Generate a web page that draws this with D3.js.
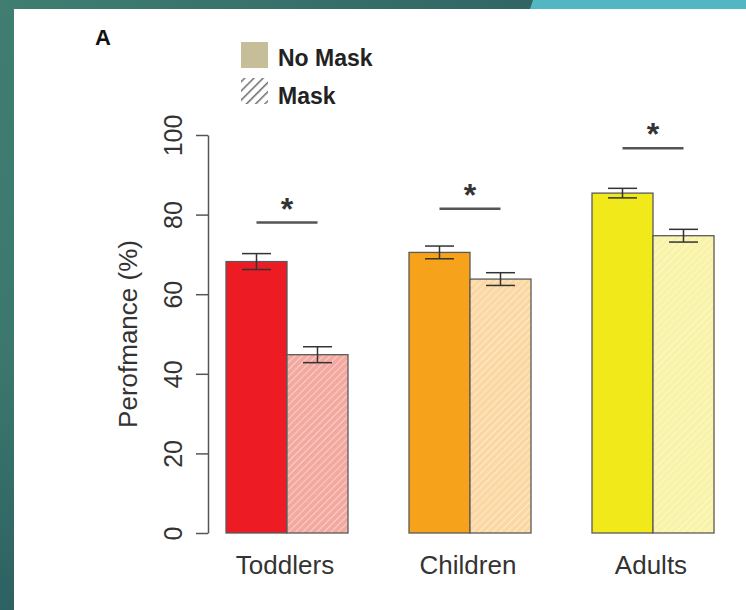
<!DOCTYPE html>
<html>
<head>
<meta charset="utf-8">
<script src="https://cdn.jsdelivr.net/npm/d3@7"></script>
<style>
  html, body { margin: 0; padding: 0; background: #ffffff; }
  svg { display: block; }
</style>
</head>
<body>
<script>
// Performance by age group, with and without a face mask
const categories = ["Toddlers", "Children", "Adults"];
const seriesNames = ["No Mask", "Mask"];
const noMask = [68.2, 70.5, 85.4];
const mask = [44.8, 63.8, 74.7];
const noMaskErr = [2.0, 1.6, 1.2];
const maskErr = [2.0, 1.6, 1.6];
const sigLevel = [78, 81.5, 96.7];
const sigMark = ["*", "*", "*"];
const yTicks = [0, 20, 40, 60, 80, 100];

const solidColors = ["#ed1c24", "#f7a21b", "#f2e91a"];
const lightColors = ["#f3a99f", "#fbd8a3", "#f8f3a6"];

const W = 746, H = 610;
const svg = d3.select("body").append("svg").attr("width", W).attr("height", H);
const defs = svg.append("defs");

// slide frame: teal band on the left and top, cyan strip at top right
const g1 = defs.append("linearGradient").attr("id", "bandTop").attr("x1", 0).attr("x2", 1).attr("y1", 0).attr("y2", 0);
g1.append("stop").attr("offset", 0).attr("stop-color", "#3f7e71");
g1.append("stop").attr("offset", 1).attr("stop-color", "#2a5b5f");
const g2 = defs.append("linearGradient").attr("id", "bandLeft").attr("x1", 0).attr("x2", 0).attr("y1", 0).attr("y2", 1);
g2.append("stop").attr("offset", 0).attr("stop-color", "#3f7e71");
g2.append("stop").attr("offset", 0.6).attr("stop-color", "#3b776d");
g2.append("stop").attr("offset", 1).attr("stop-color", "#2e6162");

svg.append("rect").attr("x", 0).attr("y", 0).attr("width", 14).attr("height", H).attr("fill", "url(#bandLeft)");
svg.append("rect").attr("x", 0).attr("y", 0).attr("width", W).attr("height", 9).attr("fill", "url(#bandTop)");
svg.append("path").attr("d", "M533,0 L746,0 L746,9 L530,9 Z").attr("fill", "#52b7c3");

// hatch patterns for the masked bars
lightColors.forEach((c, i) => {
  const p = defs.append("pattern").attr("id", "hatch" + i)
    .attr("patternUnits", "userSpaceOnUse").attr("width", 5).attr("height", 5)
    .attr("patternTransform", "rotate(45)");
  p.append("rect").attr("width", 5).attr("height", 5).attr("fill", c);
  p.append("line").attr("x1", 0).attr("y1", 0).attr("x2", 0).attr("y2", 5)
    .attr("stroke", "#ffffff").attr("stroke-opacity", 0.45).attr("stroke-width", 2);
});
const lp = defs.append("pattern").attr("id", "hatchLegend")
  .attr("patternUnits", "userSpaceOnUse").attr("width", 6.5).attr("height", 6.5)
  .attr("patternTransform", "rotate(45)");
lp.append("rect").attr("width", 6.5).attr("height", 6.5).attr("fill", "#ffffff");
lp.append("line").attr("x1", 0).attr("y1", 0).attr("x2", 0).attr("y2", 6.5)
  .attr("stroke", "#6e6e6e").attr("stroke-width", 3);

// scales
const y = d3.scaleLinear().domain([0, 100]).range([533, 135]);
const x0 = d3.scaleBand().domain(categories).range([226, 714]).paddingInner(1 / 3).paddingOuter(0);
const x1 = d3.scaleBand().domain(seriesNames).range([0, x0.bandwidth()]);

const rows = categories.map((c, i) => ({
  cat: c, i,
  vals: [
    { s: "No Mask", v: noMask[i], e: noMaskErr[i], fill: solidColors[i] },
    { s: "Mask", v: mask[i], e: maskErr[i], fill: "url(#hatch" + i + ")" }
  ]
}));

// y axis
const yAxis = svg.append("g").attr("transform", "translate(208,0)")
  .call(d3.axisLeft(y).tickValues(yTicks).tickSize(12).tickSizeOuter(0).tickPadding(0).tickFormat(d3.format("d")));
yAxis.select(".domain").attr("stroke", "#555").attr("stroke-width", 1.5);
yAxis.selectAll(".tick line").attr("stroke", "#555").attr("stroke-width", 1.5);
yAxis.selectAll(".tick text")
  .attr("transform", "translate(-26,0) rotate(-90)")
  .attr("x", 0).attr("y", 0).attr("dy", 0)
  .attr("text-anchor", "middle")
  .attr("font-family", "Liberation Sans, Arial, sans-serif")
  .attr("font-size", 25).attr("fill", "#333");

svg.append("text")
  .attr("transform", `translate(137,${(y(0) + y(100)) / 2}) rotate(-90)`)
  .attr("text-anchor", "middle")
  .attr("font-family", "Liberation Sans, Arial, sans-serif")
  .attr("font-size", 26).attr("fill", "#333")
  .text("Perofmance (%)");

// bars
const groups = svg.append("g").selectAll("g").data(rows).join("g")
  .attr("transform", d => `translate(${x0(d.cat)},0)`);

groups.selectAll("rect").data(d => d.vals).join("rect")
  .attr("x", d => x1(d.s)).attr("width", x1.bandwidth())
  .attr("y", d => y(d.v)).attr("height", d => y(0) - y(d.v))
  .attr("fill", d => d.fill)
  .attr("stroke", "#5a5a5a").attr("stroke-width", 1.3);

// error bars
const capW = 29;
const eb = groups.selectAll("g.err").data(d => d.vals).join("g").attr("class", "err")
  .attr("stroke", "#333").attr("stroke-width", 1.5);
eb.append("line")
  .attr("x1", d => x1(d.s) + x1.bandwidth() / 2).attr("x2", d => x1(d.s) + x1.bandwidth() / 2)
  .attr("y1", d => y(d.v + d.e)).attr("y2", d => y(d.v - d.e));
eb.append("line")
  .attr("x1", d => x1(d.s) + x1.bandwidth() / 2 - capW / 2).attr("x2", d => x1(d.s) + x1.bandwidth() / 2 + capW / 2)
  .attr("y1", d => y(d.v + d.e)).attr("y2", d => y(d.v + d.e));
eb.append("line")
  .attr("x1", d => x1(d.s) + x1.bandwidth() / 2 - capW / 2).attr("x2", d => x1(d.s) + x1.bandwidth() / 2 + capW / 2)
  .attr("y1", d => y(d.v - d.e)).attr("y2", d => y(d.v - d.e));

// significance markers
const sigW = 61;
groups.append("line")
  .attr("x1", x0.bandwidth() / 2 - sigW / 2).attr("x2", x0.bandwidth() / 2 + sigW / 2)
  .attr("y1", d => y(sigLevel[d.i])).attr("y2", d => y(sigLevel[d.i]))
  .attr("stroke", "#555").attr("stroke-width", 2.5);
groups.append("text")
  .attr("x", x0.bandwidth() / 2).attr("y", d => y(sigLevel[d.i]) - 3)
  .attr("text-anchor", "middle")
  .attr("font-family", "Liberation Sans, Arial, sans-serif").attr("font-weight", "bold")
  .attr("font-size", 32).attr("fill", "#333")
  .text(d => sigMark[d.i]);

// category labels
svg.append("g").selectAll("text").data(categories).join("text")
  .attr("x", d => x0(d) + x0.bandwidth() / 2 - 2).attr("y", 574)
  .attr("text-anchor", "middle")
  .attr("font-family", "Liberation Sans, Arial, sans-serif")
  .attr("font-size", 26).attr("fill", "#333")
  .text(d => d);

// panel letter
svg.append("text").attr("x", 95).attr("y", 45)
  .attr("font-family", "Liberation Sans, Arial, sans-serif").attr("font-weight", "bold")
  .attr("font-size", 22).attr("fill", "#111").text("A");

// legend
const legend = svg.append("g");
const legendFills = ["#c6be98", "url(#hatchLegend)"];
seriesNames.forEach((s, i) => {
  legend.append("rect").attr("x", 241).attr("y", 42 + i * 36).attr("width", 27).attr("height", 26)
    .attr("fill", legendFills[i]);
  legend.append("text").attr("x", 278).attr("y", 66 + i * 38)
    .attr("font-family", "Liberation Sans, Arial, sans-serif").attr("font-weight", "bold")
    .attr("font-size", 23).attr("fill", "#222").text(s);
});
</script>
</body>
</html>
